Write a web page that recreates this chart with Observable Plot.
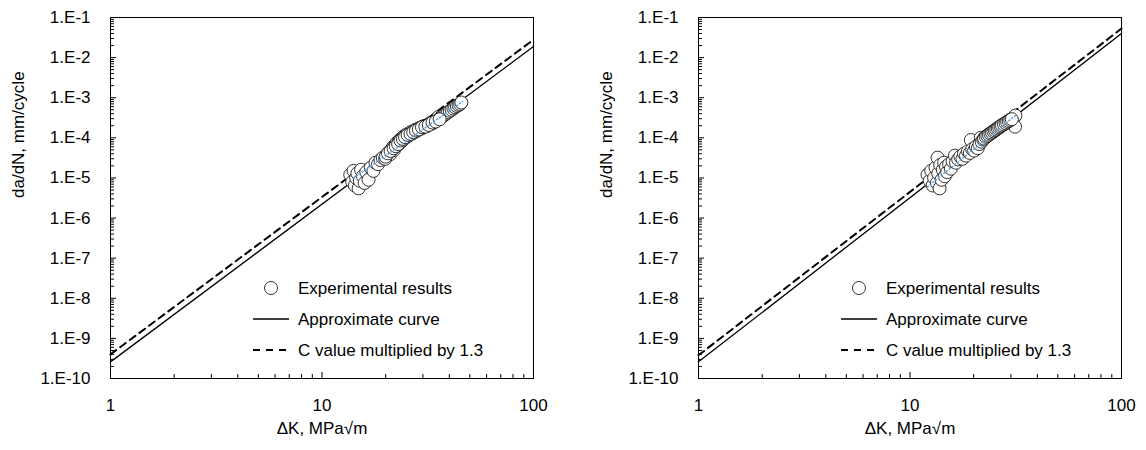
<!DOCTYPE html>
<html><head><meta charset="utf-8">
<script src="https://cdn.jsdelivr.net/npm/d3@7"></script>
<script src="https://cdn.jsdelivr.net/npm/@observablehq/plot@0.6"></script>
<style>
body{margin:0;background:#fff;}
#wrap{display:flex;width:1146px;height:450px;overflow:hidden;}
</style></head><body><div id="wrap"></div>
<script>
// ---- tick values & labels ----
const xMajor = [1, 10, 100];
const xTickLabels = ["1", "10", "100"];
const yMajor = [1e-10, 1e-9, 1e-8, 1e-7, 1e-6, 1e-5, 1e-4, 1e-3, 1e-2, 1e-1];
const yTickLabels = ["1.E-10","1.E-9","1.E-8","1.E-7","1.E-6","1.E-5","1.E-4","1.E-3","1.E-2","1.E-1"];
const minorMult = [2,3,4,5,6,7,8,9];

const xTitle = "ΔK, MPa√m";
const yTitle = "da/dN, mm/cycle";
const legendLabels = ["Experimental results", "Approximate curve", "C value multiplied by 1.3"];

// ---- left panel data ----
const leftK = [13.6,13.9,14.1,14.3,14.5,14.7,14.9,15.1,15.3,15.6,15.9,16.2,16.6,17.0,17.5,17.9,
  18.4,18.9,19.4,19.9,20.3,20.7,21.0,21.3,21.6,21.9,22.2,22.5,22.8,23.1,23.4,23.7,24.0,24.3,24.6,24.9,
  25.2,25.6,26.0,26.4,26.8,27.2,27.6,28.0,28.5,29.0,29.5,30.0,30.6,31.2,31.8,32.4,33.0,33.6,34.2,34.8,
  35.5,36.2,37.0,37.8,38.6,39.4,40.2,41.0,41.8,42.6,43.4,44.2,45.0,45.6,
  20.0,20.5,21.1,21.8,22.3,22.9,23.5,24.1,24.7,25.4,26.2,27.0,27.8,28.7,29.7,30.8,32.0,33.3,34.5,36.0];
const leftV = [1.2e-5,8.0e-6,1.5e-5,6.5e-6,1.0e-5,1.3e-5,5.5e-6,8.5e-6,1.6e-5,1.1e-5,7.5e-6,1.4e-5,9.0e-6,1.8e-5,1.5e-5,2.4e-5,
  2.2e-5,2.8e-5,3.2e-5,3.0e-5,3.8e-5,4.4e-5,3.9e-5,5.0e-5,5.8e-5,5.0e-5,6.5e-5,7.4e-5,6.6e-5,8.2e-5,9.0e-5,8.0e-5,1.0e-4,1.08e-4,9.6e-5,1.15e-4,
  1.22e-4,1.12e-4,1.32e-4,1.4e-4,1.3e-4,1.5e-4,1.58e-4,1.48e-4,1.68e-4,1.78e-4,1.7e-4,1.9e-4,2.0e-4,1.95e-4,2.15e-4,2.3e-4,2.25e-4,2.45e-4,2.6e-4,2.75e-4,
  3.3e-4,3.15e-4,3.4e-4,3.7e-4,4.0e-4,4.3e-4,4.7e-4,5.0e-4,5.4e-4,5.8e-4,6.2e-4,6.6e-4,7.0e-4,7.6e-4,
  3.4e-5,4.1e-5,4.7e-5,5.5e-5,6.2e-5,7.0e-5,8.6e-5,9.4e-5,1.04e-4,1.18e-4,1.25e-4,1.38e-4,1.52e-4,1.62e-4,1.84e-4,1.9e-4,2.1e-4,2.4e-4,2.55e-4,2.9e-4];
const leftCurveK = [1, 100];
const leftSolid = [2.6e-10, 1.9e-2];
const leftDashed = [4.0e-10, 2.8e-2];
const leftTrendK = [14.1, 46.2];
const leftTrendV = [1.0e-5, 8.0e-4];

// ---- right panel data ----
const rightK = [12.1,12.4,12.6,12.8,13.0,13.2,13.4,13.5,13.6,13.8,13.9,14.1,14.3,14.5,14.6,14.8,15.0,15.3,15.6,15.9,
  16.3,16.5,16.9,17.3,17.7,18.0,18.4,18.8,19.2,19.4,19.7,20.1,20.5,20.9,21.3,
  21.6,21.8,22.2,22.6,23.0,23.4,23.8,24.2,24.6,25.0,25.4,25.8,26.2,26.6,27.0,27.5,28.0,28.5,29.0,29.5,30.0,30.5,31.0,31.5,31.4,
  22.4,22.8,23.2,23.6,24.0,24.4,24.8,25.2,25.6,26.0,26.4,26.8,27.2,27.8,28.3,28.8,29.3,29.8,30.3];
const rightV = [1.2e-5,8.5e-6,1.5e-5,6.5e-6,1.0e-5,1.8e-5,7.5e-6,3.2e-5,1.3e-5,5.5e-6,2.1e-5,9.0e-6,1.6e-5,2.4e-5,1.1e-5,1.9e-5,1.4e-5,2.2e-5,1.7e-5,2.6e-5,
  3.6e-5,2.4e-5,2.9e-5,3.4e-5,3.0e-5,4.0e-5,3.6e-5,4.6e-5,4.2e-5,8.8e-5,5.2e-5,4.8e-5,6.0e-5,5.5e-5,7.0e-5,
  1.0e-4,8.0e-5,9.0e-5,1.02e-4,1.1e-4,1.15e-4,1.25e-4,1.32e-4,1.4e-4,1.5e-4,1.58e-4,1.68e-4,1.78e-4,1.88e-4,2.0e-4,2.12e-4,2.25e-4,2.4e-4,2.55e-4,2.7e-4,2.85e-4,3.0e-4,3.2e-4,3.6e-4,1.9e-4,
  9.6e-5,1.06e-4,1.12e-4,1.2e-4,1.28e-4,1.36e-4,1.45e-4,1.54e-4,1.62e-4,1.73e-4,1.83e-4,1.94e-4,2.05e-4,2.18e-4,2.32e-4,2.48e-4,2.62e-4,2.78e-4,2.92e-4];
const rightCurveK = [1, 100];
const rightSolid = [2.6e-10, 4.0e-2];
const rightDashed = [3.8e-10, 5.3e-2];
const rightTrendK = [12.1, 31.5];
const rightTrendV = [6.0e-6, 3.6e-4];

const FONT = "'Liberation Sans', Arial, sans-serif";
const FS = 17;

const yMinor = [];
yMajor.slice(0, -1).forEach(d => minorMult.forEach(m => yMinor.push(d * m)));
const xMinor = [];
xMajor.slice(0, -1).forEach(d => minorMult.forEach(m => xMinor.push(d * m)));

function panel(K, V, curveK, solid, dashed, trendK, trendV, width, mr) {
  const pts = K.map((k, i) => ({k, v: V[i]}));
  const sol = curveK.map((k, i) => ({k, v: solid[i]}));
  const das = curveK.map((k, i) => ({k, v: dashed[i]}));
  const tr = trendK.map((k, i) => ({k, v: trendV[i]}));
  const ml = 110, mt = 17, mb = 72;
  const svg = Plot.plot({
    width, height: 450,
    marginLeft: ml, marginRight: mr, marginTop: mt, marginBottom: mb,
    style: {fontFamily: FONT, fontSize: FS + "px", color: "#000", background: "#fff"},
    x: {type: "log", domain: [1, 100]},
    y: {type: "log", domain: [1e-10, 1e-1]},
    marks: [
      Plot.line(sol, {x: "k", y: "v", stroke: "#000", strokeWidth: 1.3}),
      Plot.line(das, {x: "k", y: "v", stroke: "#000", strokeWidth: 2, strokeDasharray: "7,5"}),
      Plot.dot(pts, {x: "k", y: "v", r: 6.5, fill: "#fff", stroke: "#000", strokeWidth: 0.8}),
      Plot.line(tr, {x: "k", y: "v", stroke: "#5B9BD5", strokeWidth: 1.5, strokeDasharray: "1,2.5"}),
      Plot.frame({stroke: "#000", strokeWidth: 1}),
      Plot.axisY({ticks: yMajor, tickSize: 6, dx: 6, tickFormat: () => "", label: null}),
      Plot.axisY({ticks: yMinor, tickSize: 4, dx: 4, tickFormat: () => "", label: null}),
      Plot.axisX({ticks: xMajor, tickSize: 6, dy: -6, tickFormat: () => "", label: null}),
      Plot.axisX({ticks: xMinor, tickSize: 4, dy: -4, tickFormat: () => "", label: null}),
      Plot.axisY({ticks: yMajor, tickSize: 0, tickPadding: 20, tickFormat: d => yTickLabels[yMajor.indexOf(d)], label: null}),
      Plot.axisX({ticks: xMajor, tickSize: 0, tickPadding: 20, tickFormat: d => xTickLabels[xMajor.indexOf(d)], label: null}),
      Plot.text([yTitle], {frameAnchor: "left", rotate: -90, dx: -92, fontSize: FS, fill: "#000"}),
      Plot.text([xTitle], {frameAnchor: "bottom", dy: 55, fontSize: FS, fill: "#000"})
    ]
  });
  // legend overlay (pixel layout)
  const g = d3.select(svg).append("g").attr("font-family", FONT).attr("font-size", FS).attr("text-anchor", "start");
  const lx0 = 253, lx1 = 289, tx = 298, rows = [288, 319, 350];
  g.append("circle").attr("cx", 271).attr("cy", rows[0]).attr("r", 6.5)
    .attr("fill", "#fff").attr("stroke", "#000").attr("stroke-width", 0.8);
  g.append("line").attr("x1", lx0).attr("x2", lx1).attr("y1", rows[1]).attr("y2", rows[1])
    .attr("stroke", "#000").attr("stroke-width", 1.3);
  g.append("line").attr("x1", lx0).attr("x2", lx1).attr("y1", rows[2]).attr("y2", rows[2])
    .attr("stroke", "#000").attr("stroke-width", 2).attr("stroke-dasharray", "7,6");
  legendLabels.forEach((t, i) => {
    g.append("text").attr("x", tx).attr("y", rows[i]).attr("dy", "0.35em")
      .attr("text-anchor", "start").attr("fill", "#000").text(t);
  });
  return svg;
}

const wrap = document.getElementById("wrap");
wrap.appendChild(panel(leftK, leftV, leftCurveK, leftSolid, leftDashed, leftTrendK, leftTrendV, 588, 55));
wrap.appendChild(panel(rightK, rightV, rightCurveK, rightSolid, rightDashed, rightTrendK, rightTrendV, 558, 25));
</script></body></html>
